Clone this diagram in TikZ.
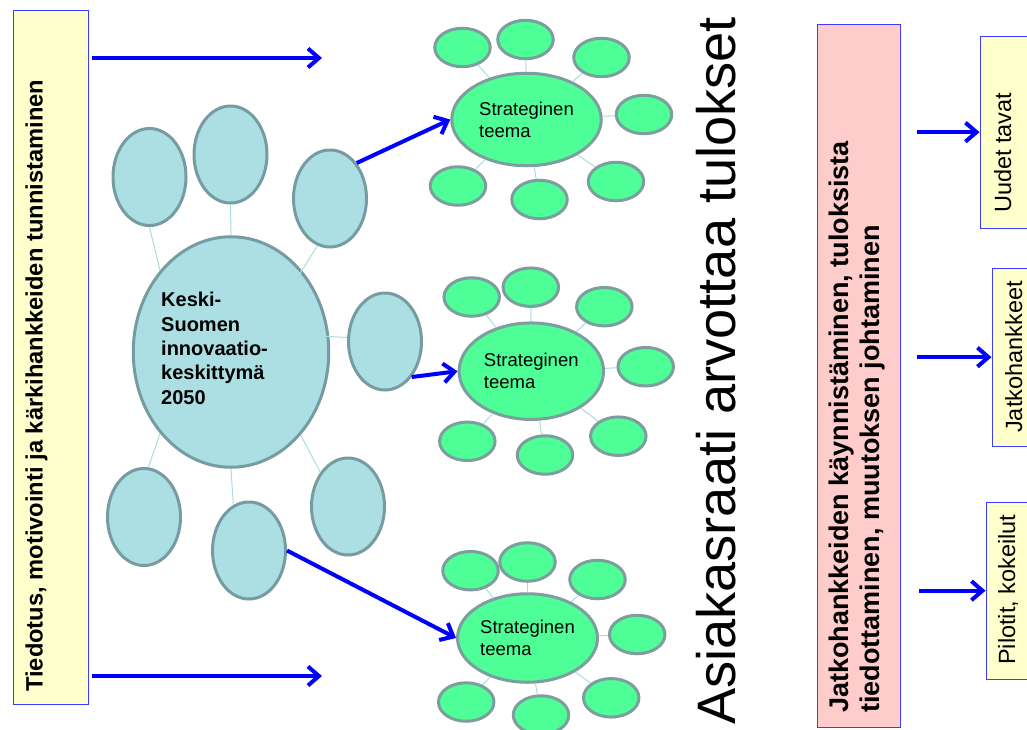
\documentclass[tikz,border=0pt]{standalone}
\usepackage{fontspec}
\setmainfont{Liberation Sans}
\usetikzlibrary{arrows.meta,shapes.geometric,calc}
\definecolor{ltblue}{RGB}{172,223,227}
\definecolor{ltbluedraw}{RGB}{118,156,161}
\definecolor{grn}{RGB}{77,255,150}
\definecolor{grndraw}{RGB}{124,158,158}
\definecolor{connc}{RGB}{168,222,226}
\definecolor{arrblue}{RGB}{0,0,255}
\definecolor{boxyellow}{RGB}{255,255,204}
\definecolor{boxpink}{RGB}{255,204,204}
\definecolor{boxline}{RGB}{60,60,255}
\tikzset{
  bsat/.style={ellipse, draw=ltbluedraw, fill=ltblue, line width=3pt, minimum width=73pt, minimum height=97pt, inner sep=0pt},
  bmain/.style={ellipse, draw=ltbluedraw, fill=ltblue, line width=3pt, minimum width=195.5pt, minimum height=230.5pt, inner sep=0pt},
  gsat/.style={ellipse, draw=grndraw, fill=grn, line width=3pt, minimum width=55.5pt, minimum height=38.5pt, inner sep=0pt},
  gmain/.style={ellipse, draw=grndraw, fill=grn, line width=3pt, inner sep=0pt, align=left, font=\fontsize{18.5}{22}\selectfont},
  conn/.style={draw=connc, line width=1pt},
  bigarrow/.style={draw=arrblue, line width=4pt, -{Straight Barb[length=11pt,width=19pt]}},
  ybox/.style={rectangle, draw=boxline, fill=boxyellow, line width=1.3pt, inner sep=0pt, anchor=north west},
  pbox/.style={rectangle, draw=boxline, fill=boxpink, line width=1.3pt, inner sep=0pt, anchor=north west},
  vtext/.style={rotate=90, inner sep=0pt, anchor=base west},
}
\begin{document}
\begin{tikzpicture}[x=1pt,y=-1pt]
\clip (0,0) rectangle (1027,729);
\fill[white] (0,0) rectangle (1027,729);

% left box
\node[ybox, minimum width=75pt, minimum height=694pt] (lb) at (12.5,9.5) {};
\node[vtext, font=\bfseries\fontsize{23.7}{28}\selectfont] (lt) at (42.7,692) {Tiedotus, motivointi ja kärkihankkeiden tunnistaminen};
\coordinate (la1) at (322,58);
\coordinate (la2) at (322,676);
\draw[bigarrow, shorten <=3pt] (lb.east |- la1) -- (la1);
\draw[bigarrow, shorten <=3pt] (lb.east |- la2) -- (la2);

% blue cluster
\node[bmain] (m) at (231,352) {};
\node[bsat] (s1) at (149.5,177) {};
\node[bsat] (s2) at (230.5,154.5) {};
\node[bsat] (s3) at (330,198.5) {};
\node[bsat] (s4) at (385,341.5) {};
\node[bsat] (s5) at (144,517) {};
\node[bsat] (s6) at (249,550.5) {};
\node[bsat] (s7) at (348,506.5) {};
\draw[conn] (s1.south) -- (m.131);
\draw[conn] (s2.south) -- (m.north);
\draw[conn, shorten >=-12pt] (s3.255) -- (m.49);
\draw[conn, shorten >=-16pt] (s4.174) -- (m.9);
\draw[conn] (s5.85) -- (m.229);
\draw[conn] (s6.109) -- (m.south);
\draw[conn] (s7.129) -- (m.310);
\node[inner sep=0pt, anchor=north west, align=left, font=\bfseries\fontsize{20}{24.4}\selectfont] (mt) at (161,292) {Keski-\\Suomen\\innovaatio-\\keskittymä\\2050};

% green clusters
\node[gmain, minimum width=149.5pt, minimum height=92.5pt] (g1) at (526.5,119.5) {Strateginen\\teema};
\node[gsat] (g1a) at (462.5,47.5) {};
\node[gsat] (g1b) at (525.5,39.5) {};
\node[gsat] (g1c) at (601.5,57.5) {};
\node[gsat] (g1d) at (644,114.5) {};
\node[gsat] (g1e) at (616,181.5) {};
\node[gsat] (g1f) at (539.5,199.5) {};
\node[gsat] (g1g) at (458,186) {};

\node[gmain, minimum width=144.5pt, minimum height=96.5pt] (g2) at (531.3,371.2) {Strateginen\\teema};
\node[gsat] (g2a) at (471.7,297) {};
\node[gsat] (g2b) at (530.8,287.2) {};
\node[gsat] (g2c) at (604.3,306.7) {};
\node[gsat] (g2d) at (645.7,366.7) {};
\node[gsat] (g2e) at (618.3,436.2) {};
\node[gsat] (g2f) at (545,455) {};
\node[gsat] (g2g) at (467.3,441.3) {};

\node[gmain, minimum width=140pt, minimum height=88.5pt] (g3) at (527.5,638) {Strateginen\\teema};
\node[gsat] (g3a) at (470.5,570.7) {};
\node[gsat] (g3b) at (527.5,562) {};
\node[gsat] (g3c) at (597.5,579.5) {};
\node[gsat] (g3d) at (637.2,634.5) {};
\node[gsat] (g3e) at (611.2,697.8) {};
\node[gsat] (g3f) at (541,715) {};
\node[gsat] (g3g) at (466.2,702) {};

\foreach \c in {1,2,3}{
  \foreach \s in {a,b,c,d,e,f,g}{
    \draw[conn] (g\c\s) -- (g\c);
  }
}

\draw[bigarrow] (s3.53) -- (g1.west);
\draw[bigarrow] (s4.-53) -- (g2.west);
\draw[bigarrow] (s6.east) -- (g3.west);

% big rotated text
\node[vtext, font=\fontsize{54.2}{60}\selectfont] (big) at (735,725) {Asiakasraati arvottaa tulokset};

% pink box
\node[pbox, minimum width=83pt, minimum height=703pt] (pk) at (816.5,23.5) {};
\node[rotate=90, inner sep=0pt, anchor=south west, align=left, font=\bfseries\fontsize{27}{31.7}\selectfont] (pt) at (885.7,713) {Jatkohankkeiden käynnistäminen, tuloksista\\tiedottaminen, muutoksen johtaminen};

% right boxes
\node[ybox, minimum width=70pt, minimum height=192pt] (b1) at (979.5,35.5) {};
\node[ybox, minimum width=60pt, minimum height=178pt] (b2) at (991.5,267.5) {};
\node[ybox, minimum width=60pt, minimum height=177pt] (b3) at (985.5,501.5) {};
\node[vtext, font=\fontsize{23.5}{28}\selectfont] (t1) at (1011,213) {Uudet tavat};
\node[vtext, font=\fontsize{23.5}{28}\selectfont] (t2) at (1022,433) {Jatkohankkeet};
\node[vtext, font=\fontsize{23.5}{28}\selectfont] (t3) at (1015,665) {Pilotit, kokeilut};
\draw[bigarrow, shorten <=16pt] (pk.east |- b1.west) -- (b1.west);
\draw[bigarrow, shorten <=16pt] (pk.east |- b2.west) -- (b2.west);
\draw[bigarrow, shorten <=18pt] (pk.east |- b3.west) -- (b3.west);
\end{tikzpicture}
\end{document}
